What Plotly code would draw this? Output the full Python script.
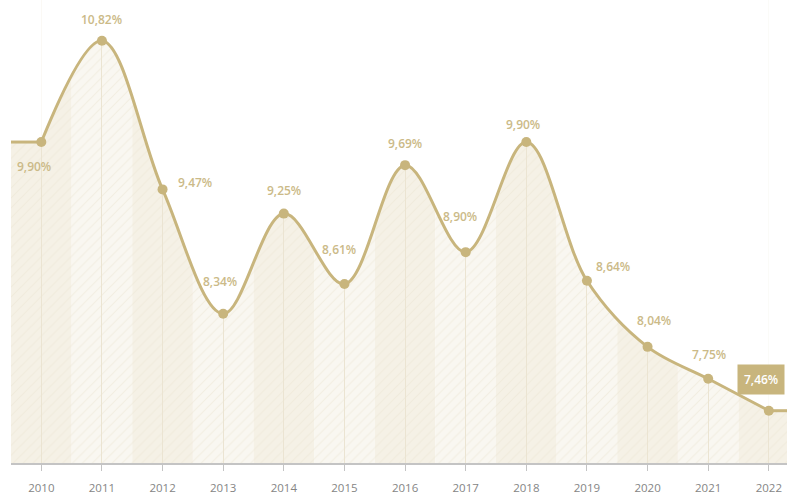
import plotly.graph_objects as go

years = ["2010", "2011", "2012", "2013", "2014", "2015", "2016",
         "2017", "2018", "2019", "2020", "2021", "2022"]
rates = [9.90, 10.82, 9.47, 8.34, 9.25, 8.61, 9.69, 8.90, 9.90, 8.64, 8.04, 7.75, 7.46]
labels = ["9,90%", "10,82%", "9,47%", "8,34%", "9,25%", "8,61%", "9,69%",
          "8,90%", "9,90%", "8,64%", "8,04%", "7,75%", "7,46%"]

# label pixel offsets (style only)
label_shift = [(-7, -24), (0, 21), (32, 7), (-3, 32), (0, 23), (-5, 35), (0, 22),
               (-6, 36), (-3, 18), (26, 14), (6, 26), (1, 24), (-8, 31)]

GOLD = "#c8b57d"
LABEL = "#cbba88"
Y_MIN, Y_MAX = 6.985, 11.19
n = len(years)
xs = list(range(n))

fig = go.Figure()

pattern = dict(shape="/", fgcolor="#ebe4d1", bgcolor="rgba(0,0,0,0)", size=7, solidity=0.16)

segments = [
    (xs, rates, "spline"),
    ([-0.5, 0], [rates[0], rates[0]], "linear"),
    ([n - 1, n - 0.5], [rates[-1], rates[-1]], "linear"),
]

# hatched fill under curve
for sx, sy, shp in segments:
    fig.add_trace(go.Scatter(x=sx, y=sy, mode="lines", line=dict(width=0, shape=shp, smoothing=1),
                             fill="tozeroy", fillcolor="rgba(0,0,0,0)", fillpattern=pattern,
                             hoverinfo="skip", showlegend=False))

# white mask above curve
for sx, sy, shp in segments:
    fig.add_trace(go.Scatter(x=sx, y=sy, mode="lines", line=dict(width=0, shape=shp, smoothing=1),
                             hoverinfo="skip", showlegend=False))
    fig.add_trace(go.Scatter(x=sx, y=[Y_MAX + 1] * len(sx), mode="lines", line=dict(width=0),
                             fill="tonexty", fillcolor="white", hoverinfo="skip", showlegend=False))

# visible lines
fig.add_trace(go.Scatter(x=segments[1][0], y=segments[1][1], mode="lines",
                         line=dict(color=GOLD, width=3), hoverinfo="skip", showlegend=False))
fig.add_trace(go.Scatter(x=segments[2][0], y=segments[2][1], mode="lines",
                         line=dict(color=GOLD, width=3), hoverinfo="skip", showlegend=False))
fig.add_trace(go.Scatter(x=xs, y=rates, mode="lines+markers",
                         line=dict(color=GOLD, width=3, shape="spline", smoothing=1),
                         marker=dict(color=GOLD, size=10), showlegend=False, cliponaxis=False))

# alternating bands
shapes = []
for i in xs:
    shapes.append(dict(type="rect", xref="x", yref="paper", x0=i - 0.5, x1=i + 0.5, y0=0, y1=1,
                       fillcolor="#f5f1e6" if i % 2 == 0 else "#f9f7f1", line=dict(width=0),
                       layer="below"))

annotations = []
for i, (lab, (dx, dy)) in enumerate(zip(labels, label_shift)):
    last = i == n - 1
    annotations.append(dict(
        x=xs[i], y=rates[i], xref="x", yref="y", text=lab, showarrow=False,
        xshift=dx, yshift=dy,
        font=dict(family="Open Sans", size=12, color="white" if last else LABEL, weight=600),
        bgcolor=GOLD if last else None, borderpad=6 if last else 0,
    ))

fig.update_layout(
    width=787, height=495,
    margin=dict(l=11, r=0, t=0, b=28),
    paper_bgcolor="white", plot_bgcolor="white",
    shapes=shapes, annotations=annotations,
    xaxis=dict(range=[-0.5, n - 0.7], tickvals=xs, ticktext=years, showgrid=True,
               gridcolor="#ebe4d2", gridwidth=1, zeroline=False,
               showline=True, linecolor="#c4c4c4", linewidth=1.5,
               ticks="outside", ticklen=6, tickcolor="#c4c4c4", tickwidth=1,
               ticklabelstandoff=7,
               tickfont=dict(family="Open Sans", size=11.5, color="#858585")),
    yaxis=dict(range=[Y_MIN, Y_MAX], showgrid=False, zeroline=False, showticklabels=False,
               showline=False),
)

fig.write_html("out.html", config={"displayModeBar": False},
               post_script="document.body.style.margin='0';document.body.style.overflow='hidden';")
